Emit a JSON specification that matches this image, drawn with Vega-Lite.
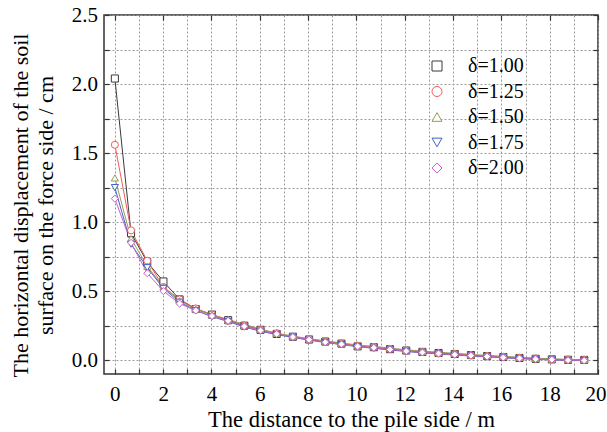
{
  "$schema": "https://vega.github.io/schema/vega-lite/v6.json",
  "width": 494,
  "height": 359,
  "autosize": {"type": "none"},
  "padding": {"left": 104, "top": 15, "right": 9, "bottom": 58},
  "background": "white",
  "config": {
    "font": "Liberation Serif",
    "view": {"stroke": "#333333", "strokeWidth": 1.5},
    "axis": {
      "labelFont": "Liberation Serif", "titleFont": "Liberation Serif",
      "labelFontSize": 21, "titleFontSize": 22, "labelColor": "black", "titleColor": "black",
      "titleFontWeight": "normal", "gridColor": "#9a9a9a", "gridDash": [2, 2], "gridWidth": 1,
      "domain": false, "tickColor": "#333333", "tickSize": -5, "tickWidth": 1.2,
      "labelOverlap": false, "labelBound": false
    },
    "legend": {"orient": "none", "legendX": 323, "legendY": 41, "title": null, "symbolSize": 100, "labelOffset": 21, "labelFont": "Liberation Serif", "labelFontSize": 20, "labelColor": "black", "rowPadding": 5.5, "padding": 0, "symbolStrokeWidth": 1}
  },
  "data": {
    "values": [
      {"s": "δ=1.00", "x": 0, "y": 2.04}, {"s": "δ=1.00", "x": 0.67, "y": 0.92}, {"s": "δ=1.00", "x": 1.34, "y": 0.71}, {"s": "δ=1.00", "x": 2.01, "y": 0.57}, {"s": "δ=1.00", "x": 2.68, "y": 0.44}, {"s": "δ=1.00", "x": 3.35, "y": 0.37}, {"s": "δ=1.00", "x": 4.02, "y": 0.33}, {"s": "δ=1.00", "x": 4.69, "y": 0.29}, {"s": "δ=1.00", "x": 5.36, "y": 0.25}, {"s": "δ=1.00", "x": 6.03, "y": 0.22}, {"s": "δ=1.00", "x": 6.7, "y": 0.19}, {"s": "δ=1.00", "x": 7.37, "y": 0.17}, {"s": "δ=1.00", "x": 8.04, "y": 0.15}, {"s": "δ=1.00", "x": 8.71, "y": 0.135}, {"s": "δ=1.00", "x": 9.38, "y": 0.12}, {"s": "δ=1.00", "x": 10.05, "y": 0.1}, {"s": "δ=1.00", "x": 10.72, "y": 0.094}, {"s": "δ=1.00", "x": 11.39, "y": 0.08}, {"s": "δ=1.00", "x": 12.06, "y": 0.07}, {"s": "δ=1.00", "x": 12.73, "y": 0.06}, {"s": "δ=1.00", "x": 13.4, "y": 0.052}, {"s": "δ=1.00", "x": 14.07, "y": 0.045}, {"s": "δ=1.00", "x": 14.74, "y": 0.037}, {"s": "δ=1.00", "x": 15.41, "y": 0.03}, {"s": "δ=1.00", "x": 16.08, "y": 0.023}, {"s": "δ=1.00", "x": 16.75, "y": 0.016}, {"s": "δ=1.00", "x": 17.42, "y": 0.01}, {"s": "δ=1.00", "x": 18.09, "y": 0.006}, {"s": "δ=1.00", "x": 18.76, "y": 0.003}, {"s": "δ=1.00", "x": 19.43, "y": 0.002},
      {"s": "δ=1.25", "x": 0, "y": 1.56}, {"s": "δ=1.25", "x": 0.67, "y": 0.94}, {"s": "δ=1.25", "x": 1.34, "y": 0.72}, {"s": "δ=1.25", "x": 2.01, "y": 0.53}, {"s": "δ=1.25", "x": 2.68, "y": 0.44}, {"s": "δ=1.25", "x": 3.35, "y": 0.375}, {"s": "δ=1.25", "x": 4.02, "y": 0.33}, {"s": "δ=1.25", "x": 4.69, "y": 0.285}, {"s": "δ=1.25", "x": 5.36, "y": 0.25}, {"s": "δ=1.25", "x": 6.03, "y": 0.22}, {"s": "δ=1.25", "x": 6.7, "y": 0.195}, {"s": "δ=1.25", "x": 7.37, "y": 0.17}, {"s": "δ=1.25", "x": 8.04, "y": 0.155}, {"s": "δ=1.25", "x": 8.71, "y": 0.135}, {"s": "δ=1.25", "x": 9.38, "y": 0.12}, {"s": "δ=1.25", "x": 10.05, "y": 0.105}, {"s": "δ=1.25", "x": 10.72, "y": 0.095}, {"s": "δ=1.25", "x": 11.39, "y": 0.082}, {"s": "δ=1.25", "x": 12.06, "y": 0.071}, {"s": "δ=1.25", "x": 12.73, "y": 0.06}, {"s": "δ=1.25", "x": 13.4, "y": 0.05}, {"s": "δ=1.25", "x": 14.07, "y": 0.045}, {"s": "δ=1.25", "x": 14.74, "y": 0.036}, {"s": "δ=1.25", "x": 15.41, "y": 0.03}, {"s": "δ=1.25", "x": 16.08, "y": 0.024}, {"s": "δ=1.25", "x": 16.75, "y": 0.017}, {"s": "δ=1.25", "x": 17.42, "y": 0.012}, {"s": "δ=1.25", "x": 18.09, "y": 0.007}, {"s": "δ=1.25", "x": 18.76, "y": 0.004}, {"s": "δ=1.25", "x": 19.43, "y": 0.003},
      {"s": "δ=1.50", "x": 0, "y": 1.32}, {"s": "δ=1.50", "x": 0.67, "y": 0.88}, {"s": "δ=1.50", "x": 1.34, "y": 0.68}, {"s": "δ=1.50", "x": 2.01, "y": 0.53}, {"s": "δ=1.50", "x": 2.68, "y": 0.43}, {"s": "δ=1.50", "x": 3.35, "y": 0.37}, {"s": "δ=1.50", "x": 4.02, "y": 0.33}, {"s": "δ=1.50", "x": 4.69, "y": 0.295}, {"s": "δ=1.50", "x": 5.36, "y": 0.26}, {"s": "δ=1.50", "x": 6.03, "y": 0.225}, {"s": "δ=1.50", "x": 6.7, "y": 0.195}, {"s": "δ=1.50", "x": 7.37, "y": 0.175}, {"s": "δ=1.50", "x": 8.04, "y": 0.155}, {"s": "δ=1.50", "x": 8.71, "y": 0.14}, {"s": "δ=1.50", "x": 9.38, "y": 0.125}, {"s": "δ=1.50", "x": 10.05, "y": 0.11}, {"s": "δ=1.50", "x": 10.72, "y": 0.1}, {"s": "δ=1.50", "x": 11.39, "y": 0.088}, {"s": "δ=1.50", "x": 12.06, "y": 0.075}, {"s": "δ=1.50", "x": 12.73, "y": 0.066}, {"s": "δ=1.50", "x": 13.4, "y": 0.058}, {"s": "δ=1.50", "x": 14.07, "y": 0.05}, {"s": "δ=1.50", "x": 14.74, "y": 0.042}, {"s": "δ=1.50", "x": 15.41, "y": 0.035}, {"s": "δ=1.50", "x": 16.08, "y": 0.028}, {"s": "δ=1.50", "x": 16.75, "y": 0.022}, {"s": "δ=1.50", "x": 17.42, "y": 0.015}, {"s": "δ=1.50", "x": 18.09, "y": 0.01}, {"s": "δ=1.50", "x": 18.76, "y": 0.006}, {"s": "δ=1.50", "x": 19.43, "y": 0.003},
      {"s": "δ=1.75", "x": 0, "y": 1.25}, {"s": "δ=1.75", "x": 0.67, "y": 0.84}, {"s": "δ=1.75", "x": 1.34, "y": 0.67}, {"s": "δ=1.75", "x": 2.01, "y": 0.52}, {"s": "δ=1.75", "x": 2.68, "y": 0.42}, {"s": "δ=1.75", "x": 3.35, "y": 0.36}, {"s": "δ=1.75", "x": 4.02, "y": 0.315}, {"s": "δ=1.75", "x": 4.69, "y": 0.28}, {"s": "δ=1.75", "x": 5.36, "y": 0.24}, {"s": "δ=1.75", "x": 6.03, "y": 0.21}, {"s": "δ=1.75", "x": 6.7, "y": 0.185}, {"s": "δ=1.75", "x": 7.37, "y": 0.165}, {"s": "δ=1.75", "x": 8.04, "y": 0.145}, {"s": "δ=1.75", "x": 8.71, "y": 0.128}, {"s": "δ=1.75", "x": 9.38, "y": 0.113}, {"s": "δ=1.75", "x": 10.05, "y": 0.098}, {"s": "δ=1.75", "x": 10.72, "y": 0.086}, {"s": "δ=1.75", "x": 11.39, "y": 0.074}, {"s": "δ=1.75", "x": 12.06, "y": 0.063}, {"s": "δ=1.75", "x": 12.73, "y": 0.053}, {"s": "δ=1.75", "x": 13.4, "y": 0.045}, {"s": "δ=1.75", "x": 14.07, "y": 0.037}, {"s": "δ=1.75", "x": 14.74, "y": 0.03}, {"s": "δ=1.75", "x": 15.41, "y": 0.024}, {"s": "δ=1.75", "x": 16.08, "y": 0.017}, {"s": "δ=1.75", "x": 16.75, "y": 0.011}, {"s": "δ=1.75", "x": 17.42, "y": 0.006}, {"s": "δ=1.75", "x": 18.09, "y": 0.002}, {"s": "δ=1.75", "x": 18.76, "y": -0.002}, {"s": "δ=1.75", "x": 19.43, "y": -0.003},
      {"s": "δ=2.00", "x": 0, "y": 1.17}, {"s": "δ=2.00", "x": 0.67, "y": 0.85}, {"s": "δ=2.00", "x": 1.34, "y": 0.63}, {"s": "δ=2.00", "x": 2.01, "y": 0.5}, {"s": "δ=2.00", "x": 2.68, "y": 0.41}, {"s": "δ=2.00", "x": 3.35, "y": 0.36}, {"s": "δ=2.00", "x": 4.02, "y": 0.32}, {"s": "δ=2.00", "x": 4.69, "y": 0.285}, {"s": "δ=2.00", "x": 5.36, "y": 0.245}, {"s": "δ=2.00", "x": 6.03, "y": 0.215}, {"s": "δ=2.00", "x": 6.7, "y": 0.19}, {"s": "δ=2.00", "x": 7.37, "y": 0.168}, {"s": "δ=2.00", "x": 8.04, "y": 0.148}, {"s": "δ=2.00", "x": 8.71, "y": 0.13}, {"s": "δ=2.00", "x": 9.38, "y": 0.115}, {"s": "δ=2.00", "x": 10.05, "y": 0.1}, {"s": "δ=2.00", "x": 10.72, "y": 0.09}, {"s": "δ=2.00", "x": 11.39, "y": 0.078}, {"s": "δ=2.00", "x": 12.06, "y": 0.066}, {"s": "δ=2.00", "x": 12.73, "y": 0.056}, {"s": "δ=2.00", "x": 13.4, "y": 0.048}, {"s": "δ=2.00", "x": 14.07, "y": 0.04}, {"s": "δ=2.00", "x": 14.74, "y": 0.033}, {"s": "δ=2.00", "x": 15.41, "y": 0.026}, {"s": "δ=2.00", "x": 16.08, "y": 0.019}, {"s": "δ=2.00", "x": 16.75, "y": 0.013}, {"s": "δ=2.00", "x": 17.42, "y": 0.008}, {"s": "δ=2.00", "x": 18.09, "y": 0.004}, {"s": "δ=2.00", "x": 18.76, "y": 0.0}, {"s": "δ=2.00", "x": 19.43, "y": -0.002}
    ]
  },
  "encoding": {
    "color": {
      "field": "s", "type": "nominal",
      "scale": {"domain": ["δ=1.00","δ=1.25","δ=1.50","δ=1.75","δ=2.00"], "range": ["#3a3a3a","#f25a5a","#9a9a58","#3f62c8","#c860c8"]}
    }
  },
  "resolve": {"axis": {"x": "independent", "y": "independent"}},
  "layer": [
    {
      "mark": {"type": "line", "strokeWidth": 1},
      "encoding": {
        "x": {
          "field": "x", "type": "quantitative",
          "scale": {"domain": [-0.45, 20], "nice": false, "zero": false},
          "axis": {
            "values": [0,1,2,3,4,5,6,7,8,9,10,11,12,13,14,15,16,17,18,19,20],
            "labelExpr": "datum.value % 2 === 0 ? datum.label : ''",
            "title": "The distance to the pile side / m",
            "titleFontSize": 22.5,
            "labelPadding": 14,
            "labelFlush": true,
            "labelFlushOffset": 8,
            "titlePadding": 4
          }
        },
        "y": {
          "field": "y", "type": "quantitative",
          "scale": {"domain": [-0.1, 2.5], "nice": false, "zero": false},
          "axis": {
            "values": [0,0.25,0.5,0.75,1,1.25,1.5,1.75,2,2.25,2.5],
            "format": ".1f",
            "labelExpr": "abs(datum.value*2 - round(datum.value*2)) < 0.001 ? datum.label : ''",
            "title": ["The horizontal displacement of the soil", "surface on the force side / cm"],
            "titleLineHeight": 25,
            "titleX": -72,
            "titleY": 190,
            "labelFlush": false,
            "labelPadding": 11.5
          }
        }
      }
    },
    {
      "mark": {"type": "point", "filled": false, "fill": "white", "fillOpacity": 1, "size": 50, "strokeWidth": 1},
      "encoding": {
        "x": {
          "field": "x", "type": "quantitative",
          "scale": {"domain": [-0.45, 20], "nice": false, "zero": false},
          "axis": {"orient": "top", "values": [0,2,4,6,8,10,12,14,16,18,20], "labels": false, "grid": false, "title": null}
        },
        "y": {
          "field": "y", "type": "quantitative",
          "scale": {"domain": [-0.1, 2.5], "nice": false, "zero": false},
          "axis": {"orient": "right", "values": [0,0.25,0.5,0.75,1,1.25,1.5,1.75,2,2.25,2.5], "labels": false, "grid": false, "title": null}
        },
        "shape": {
          "field": "s", "type": "nominal",
          "scale": {"domain": ["δ=1.00","δ=1.25","δ=1.50","δ=1.75","δ=2.00"], "range": ["square","circle","triangle-up","triangle-down","diamond"]}
        }
      }
    }
  ]
}
